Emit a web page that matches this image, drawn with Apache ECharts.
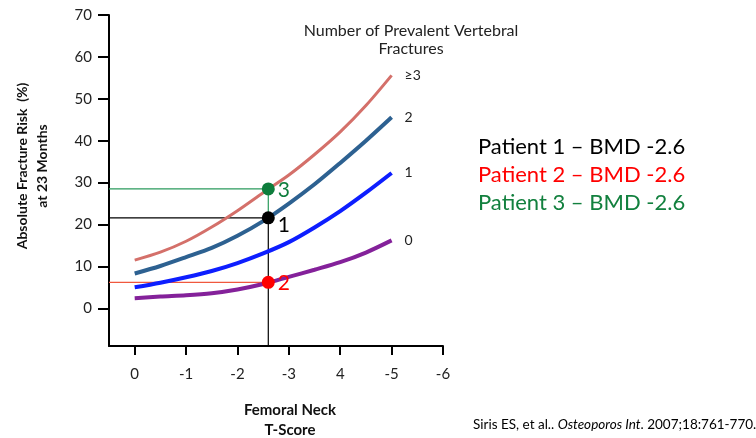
<!DOCTYPE html>
<html>
<head>
<meta charset="utf-8">
<script src="https://cdn.jsdelivr.net/npm/echarts@6/dist/echarts.min.js"></script>
<style>
  html, body { margin: 0; padding: 0; background: #ffffff; }
  #chart { width: 756px; height: 438px; }
</style>
</head>
<body>
<div id="chart"></div>
<script>
// Femoral neck T-score (plotted on a reversed axis)
const tScores = [0, -0.5, -1, -1.5, -2, -2.5, -3, -3.5, -4, -4.5, -5];
const xTickValues = [0, -1, -2, -3, -4, -5, -6];
const xTickLabels = ['0', '-1', '-2', '-3', '4', '-5', '-6'];
const yTickValues = [0, 10, 20, 30, 40, 50, 60, 70];

// Absolute fracture risk (%) at 23 months, by number of prevalent vertebral fractures
const fractureGroups = ['≥3', '2', '1', '0'];
const riskGe3 = [11.5, 13.4, 16.0, 19.4, 23.3, 27.6, 31.8, 36.7, 42.1, 48.4, 55.6];
const risk2   = [8.3, 10.1, 12.2, 14.4, 17.3, 20.8, 25.0, 29.6, 34.7, 40.0, 45.6];
const risk1   = [5.0, 6.1, 7.4, 8.9, 10.8, 13.1, 15.8, 19.3, 23.2, 27.6, 32.3];
const risk0   = [2.4, 2.8, 3.1, 3.6, 4.5, 5.8, 7.5, 9.2, 11.0, 13.3, 16.2];

// Patients, all with BMD -2.6
const patientNames = ['1', '2', '3'];
const patientBMD = [-2.6, -2.6, -2.6];
const patientRisk = [21.6, 6.2, 28.5];

const X_MIN = -6, X_MAX = 0.5, Y_MIN = -9, Y_MAX = 70;

const curveColors = ['#d4706a', '#2d6191', '#0d1eff', '#84219a'];
const patientColors = ['#000000', '#ff0000', '#0e7d3c'];
const guideColors = ['#000000', '#f0583e', '#2a9a5c'];
const FONT = 'Lato, "Open Sans", sans-serif';

const curves = [riskGe3, risk2, risk1, risk0];

const series = [];

// horizontal guides from the y axis to each patient
patientRisk.forEach((r, i) => {
  series.push({
    type: 'line', silent: true, symbol: 'none', z: 1,
    lineStyle: { color: guideColors[i], width: 1.2 },
    data: [[X_MAX, r], [patientBMD[i], r]]
  });
});
// vertical guide from the x axis up to patient 1, then green up to patient 3
series.push({
  type: 'line', silent: true, symbol: 'none', z: 1,
  lineStyle: { color: '#000000', width: 1.2 },
  data: [[patientBMD[0], Y_MIN], [patientBMD[0], patientRisk[0]]]
});
series.push({
  type: 'line', silent: true, symbol: 'none', z: 1,
  lineStyle: { color: '#2a9a5c', width: 1.2 },
  data: [[patientBMD[2], patientRisk[0]], [patientBMD[2], patientRisk[2]]]
});

curves.forEach((vals, i) => {
  const last = vals.length - 1;
  series.push({
    type: 'line', name: fractureGroups[i], z: 3,
    symbol: 'circle', symbolSize: 0, showSymbol: true,
    smooth: 0.3,
    lineStyle: { color: curveColors[i], width: i === 0 ? 3 : 4 },
    itemStyle: { color: curveColors[i] },
    data: tScores.map((t, k) => k === last ? {
      value: [t, vals[k]],
      label: {
        show: true, position: 'right', distance: 13, formatter: fractureGroups[i],
        color: '#222', fontSize: 14, fontFamily: FONT
      }
    } : [t, vals[k]])
  });
});

series.push({
  type: 'scatter', z: 5, symbolSize: 13,
  data: patientNames.map((n, i) => ({
    value: [patientBMD[i], patientRisk[i]],
    itemStyle: { color: patientColors[i], opacity: 1 },
    label: {
      show: true, position: 'right', distance: 3, formatter: n,
      color: patientColors[i], fontSize: 21, fontFamily: FONT,
      offset: i === 0 ? [0, 7] : [0, 1]
    }
  }))
});

const chart = echarts.init(document.getElementById('chart'), null, { renderer: 'canvas' });
chart.setOption({
  animation: false,
  backgroundColor: '#ffffff',
  grid: { left: 109, right: 313, top: 15, bottom: 92, containLabel: false },
  xAxis: {
    type: 'value', inverse: true, min: X_MIN, max: X_MAX,
    axisLine: { show: true, onZero: false, lineStyle: { color: '#000', width: 2 } },
    axisTick: { show: true, length: 9, lineStyle: { color: '#000', width: 2 }, customValues: xTickValues },
    axisLabel: {
      margin: 21, color: '#222', fontSize: 15, fontFamily: FONT,
      customValues: xTickValues,
      formatter: v => xTickLabels[Math.round(-v)]
    },
    splitLine: { show: false }
  },
  yAxis: {
    type: 'value', min: Y_MIN, max: Y_MAX,
    axisLine: { show: true, onZero: false, lineStyle: { color: '#000', width: 2 } },
    axisTick: { show: true, length: 11, lineStyle: { color: '#000', width: 2 }, customValues: yTickValues },
    axisLabel: {
      margin: 17, color: '#222', fontSize: 15, fontFamily: FONT,
      customValues: yTickValues
    },
    splitLine: { show: false }
  },
  series: series,
  graphic: [
    {
      type: 'text', position: [411, 40],
      style: {
        text: 'Number of Prevalent Vertebral\nFractures', x: 0, y: 0,
        align: 'center', verticalAlign: 'middle', lineHeight: 18,
        font: '16px ' + FONT, fill: '#222'
      }
    },
    {
      type: 'text', position: [32, 166], rotation: Math.PI / 2,
      style: {
        text: 'Absolute Fracture Risk  (%)\nat 23 Months', x: 0, y: 0,
        align: 'center', verticalAlign: 'middle', lineHeight: 20,
        font: 'bold 14px ' + FONT, fill: '#111'
      }
    },
    {
      type: 'text', position: [290, 420],
      style: {
        text: 'Femoral Neck\nT-Score', x: 0, y: 0,
        align: 'center', verticalAlign: 'middle', lineHeight: 20,
        font: 'bold 15px ' + FONT, fill: '#111'
      }
    },
    {
      type: 'text', position: [478, 147],
      style: { text: 'Patient 1 – BMD -2.6', verticalAlign: 'middle', font: '22px ' + FONT, fill: '#000' }
    },
    {
      type: 'text', position: [478, 175],
      style: { text: 'Patient 2 – BMD -2.6', verticalAlign: 'middle', font: '22px ' + FONT, fill: '#ff0000' }
    },
    {
      type: 'text', position: [478, 203],
      style: { text: 'Patient 3 – BMD -2.6', verticalAlign: 'middle', font: '22px ' + FONT, fill: '#12803e' }
    },
    {
      type: 'text', position: [473, 425],
      style: {
        text: '{a|Siris ES, et al.. }{b|Osteoporos Int}{a|. 2007;18:761-770.}',
        verticalAlign: 'middle',
        rich: {
          a: { fontSize: 13.5, fontFamily: FONT, color: '#111' },
          b: { fontSize: 13.5, fontFamily: FONT, fontStyle: 'italic', color: '#111' }
        }
      }
    }
  ]
});
</script>
</body>
</html>
